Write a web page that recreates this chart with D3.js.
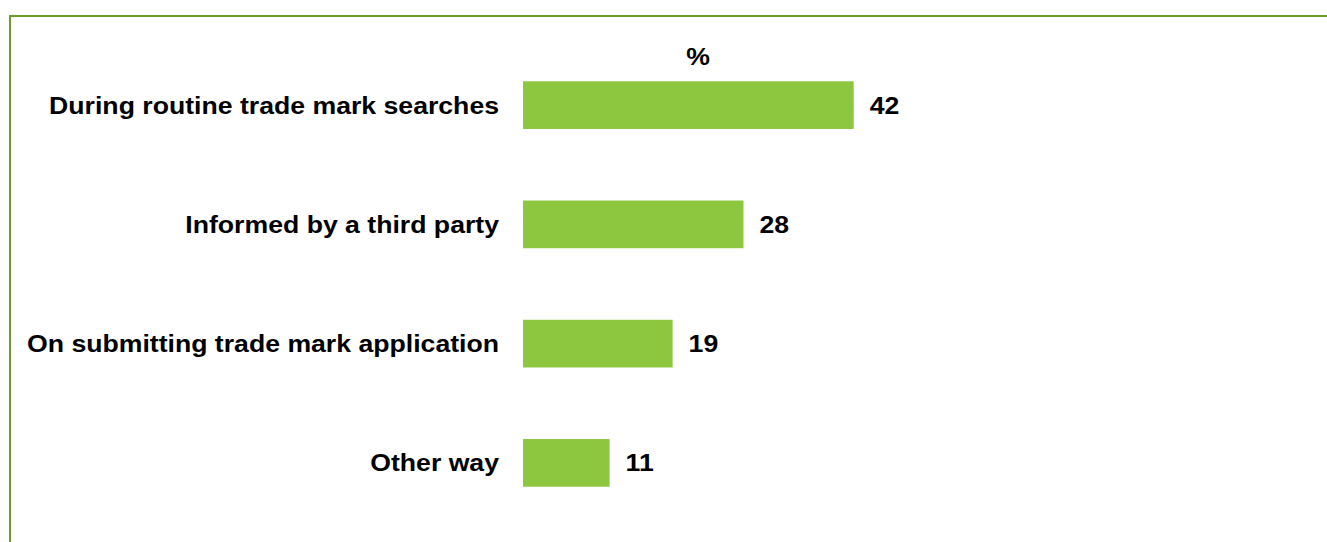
<!DOCTYPE html>
<html>
<head>
<meta charset="utf-8">
<script src="https://cdn.jsdelivr.net/npm/d3@7/dist/d3.min.js"></script>
<style>
  html, body { margin: 0; padding: 0; background: #fff; }
  svg { display: block; }
  text { font-family: "Liberation Sans", Arial, sans-serif; font-weight: bold; fill: #000; font-size: 24px; }
</style>
</head>
<body>
<svg id="chart" width="1327" height="542"></svg>
<script>
// How the trade mark conflict was first discovered (%)
const categories = [
  "During routine trade mark searches",
  "Informed by a third party",
  "On submitting trade mark application",
  "Other way"
];
const values = [42, 28, 19, 11];
const unitLabel = "%";

const W = 1327, H = 542;
const stretch = 1.11; // wide bold lettering
const svg = d3.select("#chart");

// frame: top and left rules
svg.append("line")
  .attr("x1", 10).attr("x2", W).attr("y1", 16).attr("y2", 16)
  .attr("stroke", "#6b9e2f").attr("stroke-width", 2);
svg.append("line")
  .attr("x1", 10).attr("x2", 10).attr("y1", 15).attr("y2", H)
  .attr("stroke", "#6b9e2f").attr("stroke-width", 2);

const x0 = 523;
const x = d3.scaleLinear().domain([0, 100]).range([x0, x0 + 787.4]);

const y = d3.scaleBand()
  .domain(categories)
  .range([45.5, 522.5])
  .paddingInner(0.6)
  .paddingOuter(0.3);

const g = svg.append("g");

g.selectAll("rect.bar")
  .data(values)
  .join("rect")
  .attr("class", "bar")
  .attr("x", x(0))
  .attr("y", (d, i) => y(categories[i]))
  .attr("width", d => x(d) - x(0))
  .attr("height", y.bandwidth())
  .attr("fill", "#8dc63f");

// category labels
g.selectAll("text.cat")
  .data(categories)
  .join("text")
  .attr("class", "cat")
  .attr("transform", d => `translate(${x0 - 24},${y(d) + y.bandwidth() / 2}) scale(${stretch},1)`)
  .attr("dy", "0.35em")
  .attr("text-anchor", "end")
  .text(d => d);

// value labels
g.selectAll("text.val")
  .data(values)
  .join("text")
  .attr("class", "val")
  .attr("transform", (d, i) => `translate(${x(d) + 16},${y(categories[i]) + y.bandwidth() / 2}) scale(${stretch},1)`)
  .attr("dy", "0.35em")
  .text(d => d);

// unit header
svg.append("text")
  .attr("transform", `translate(698,64.5) scale(${stretch},1)`)
  .attr("text-anchor", "middle")
  .text(unitLabel);
</script>
</body>
</html>
